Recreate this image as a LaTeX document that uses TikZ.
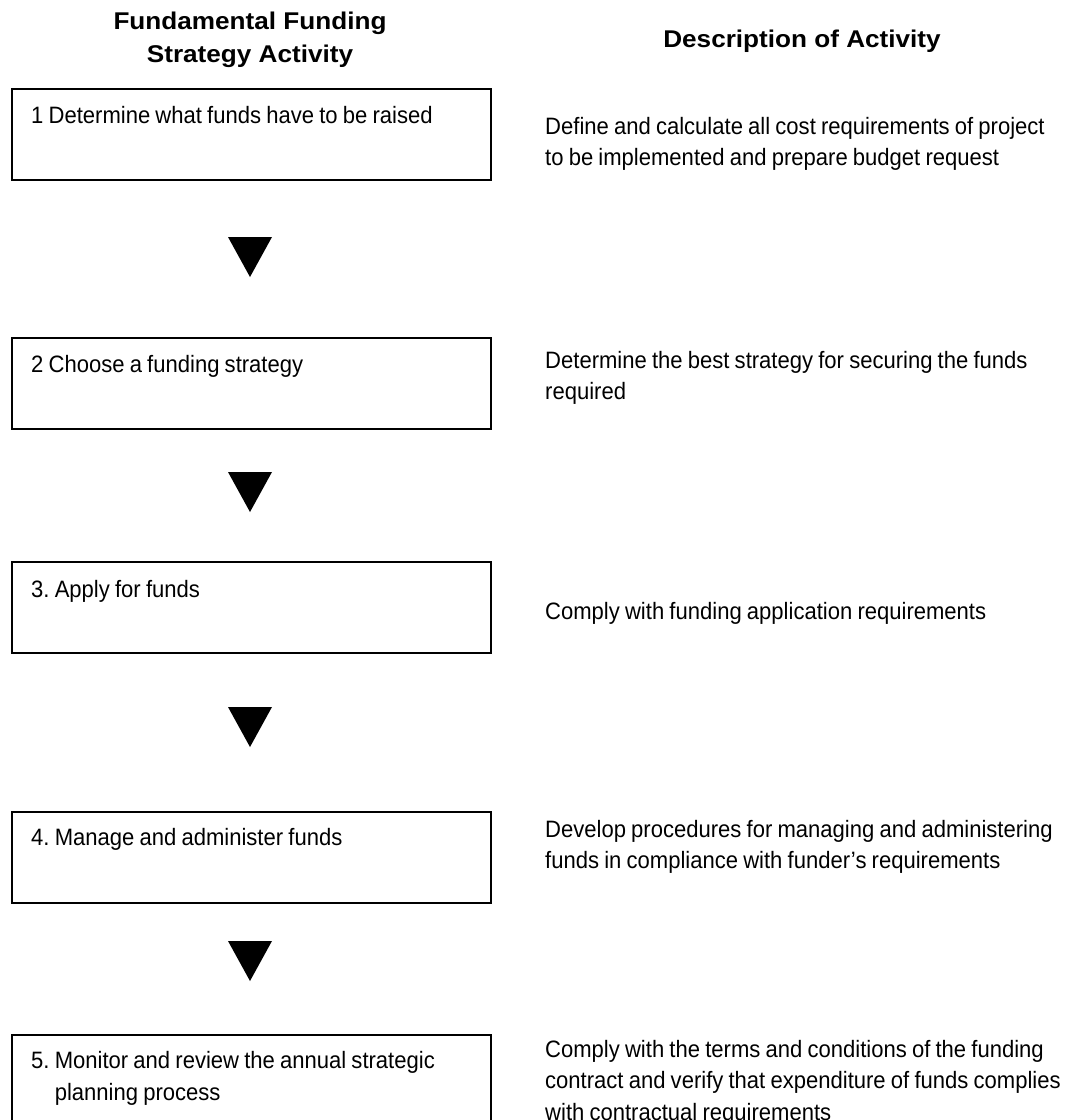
\documentclass[tikz,border=0pt]{standalone}
\usepackage{fontspec}
\setmainfont{Liberation Sans}[FakeStretch=0.93]
\newfontfamily\headfont{Liberation Sans}[FakeStretch=1.08]
\usetikzlibrary{calc}
\begin{document}
\frenchspacing
\begin{tikzpicture}[x=1pt,y=-1pt,
  tightspace/.style={execute at begin node={\spaceskip=5.2pt plus 1pt minus 1pt\relax}},
  stepbox/.style={draw, line width=1.5pt, minimum width=479pt, minimum height=91pt,
    inner sep=0pt, anchor=north west},
  steptext/.style={anchor=base west, inner sep=0pt, text width=470pt, align=left,
    font=\fontsize{23.7}{32}\selectfont, tightspace},
  desc/.style={anchor=base west, inner sep=0pt, text width=540pt, align=left,
    font=\fontsize{23.7}{31.5}\selectfont, tightspace},
  head/.style={inner sep=0pt, align=center, font=\headfont\bfseries\fontsize{24.2}{33}\selectfont},
  arrowhead/.style={fill=black}]
\clip (0,0) rectangle (1086,1120);

% column headings (node base sits on the last line)
\node[head, anchor=base] (h1) at (250,62) {Fundamental Funding\\Strategy Activity};
\node[head, anchor=base] (h2) at (802,47) {Description of Activity};

% activity boxes
\node[stepbox] (b1) at (11,88) {};
\node[stepbox] (b2) at (11,337) {};
\node[stepbox] (b3) at (11,561) {};
\node[stepbox] (b4) at (11,811) {};
\node[stepbox] (b5) at (11,1034) {};

\node[steptext] (t1) at ($(b1.north west)+(20,35)$) {1 Determine what funds have to be raised};
\node[steptext] (t2) at ($(b2.north west)+(20,35)$) {2 Choose a funding strategy};
\node[steptext] (t3) at ($(b3.north west)+(20,36)$) {3. Apply for funds};
\node[steptext] (t4) at ($(b4.north west)+(20,34)$) {4. Manage and administer funds};
\node[steptext] (t5) at ($(b5.north west)+(20,34)$) {5. Monitor and review the annual strategic\\\phantom{5. }planning process};

% downward triangles between the boxes
\foreach \n/\y in {1/237, 2/472, 3/707, 4/941} {
  \coordinate (a\n) at (250,\y);
  \fill[arrowhead] ($(a\n)+(-22,0)$) -- ($(a\n)+(22,0)$) -- ($(a\n)+(0,40)$) -- cycle;
}

% descriptions
\node[desc] (d1) at (545,134) {Define and calculate all cost requirements of project\\to be implemented and prepare budget request};
\node[desc] (d2) at (545,368) {Determine the best strategy for securing the funds\\required};
\node[desc] (d3) at (545,619) {Comply with funding application requirements};
\node[desc] (d4) at (545,837) {Develop procedures for managing and administering\\funds in compliance with funder’s requirements};
\node[desc] (d5) at (545,1057) {Comply with the terms and conditions of the funding\\contract and verify that expenditure of funds complies\\with contractual requirements};
\end{tikzpicture}
\end{document}
